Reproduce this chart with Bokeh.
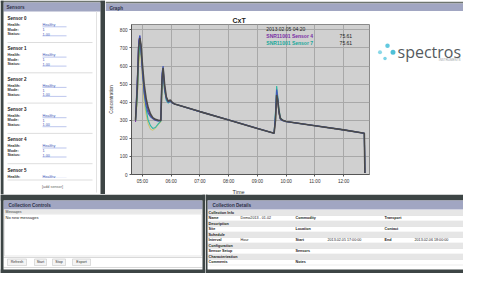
from bokeh.plotting import figure
from bokeh.layouts import row, column
from bokeh.models import Range1d, FixedTicker, Label, Title
from bokeh.core.properties import value
from bokeh.embed import file_html
from bokeh.resources import INLINE

# ---------------- data ----------------
hours = [4.76, 4.82, 4.87, 4.91, 4.95, 5.00, 5.06, 5.13, 5.20, 5.28, 5.36, 5.45, 5.55,
         5.64, 5.68, 5.72, 5.77, 5.83, 5.90, 5.97, 6.04, 6.12, 7.00, 8.00, 9.00, 9.58,
         9.63, 9.67, 9.71, 9.75, 9.80, 9.88, 10.00, 11.00, 12.00, 12.72, 12.74]
sensor_yellow = [300, 400, 600, 680, 650, 520, 400, 330, 280, 250, 245, 255, 275, 290, 450, 520, 460, 415, 398,
                 405, 398, 390, 348, 302, 255, 228, 290, 420, 390, 335, 305, 300, 293, 270, 247, 228, 8]
sensor_teal = [295, 430, 650, 720, 680, 590, 460, 360, 300, 270, 255, 260, 280, 295, 480, 560, 470, 410, 395,
               405, 398, 390, 348, 302, 255, 228, 350, 490, 430, 360, 315, 300, 293, 270, 247, 228, 8]
sensor_purple = [290, 500, 740, 765, 700, 580, 470, 400, 355, 325, 310, 300, 300, 300, 540, 580, 490, 425, 400,
                 410, 398, 390, 348, 302, 255, 228, 310, 455, 400, 345, 308, 300, 293, 270, 247, 228, 8]
sensor_blue = [310, 520, 730, 770, 690, 560, 450, 380, 340, 320, 310, 300, 295, 300, 560, 600, 470, 420, 400,
               405, 395, 390, 348, 302, 255, 228, 330, 470, 420, 340, 305, 298, 293, 270, 247, 228, 8]
sensor_main = [300, 470, 700, 755, 720, 610, 500, 420, 370, 335, 315, 305, 300, 298, 520, 590, 500, 430, 405,
               412, 398, 390, 348, 302, 255, 228, 300, 440, 410, 350, 310, 300, 293, 270, 247, 228, 8]

y_ticks = [0, 100, 200, 300, 400, 500, 600, 700, 800]
x_ticks = [5, 6, 7, 8, 9, 10, 11, 12]
x_tick_labels = ["05:00", "06:00", "07:00", "08:00", "09:00", "10:00", "11:00", "12:00"]

readout_time = "2013.02.05 04:20"
readout_names = ["SNR11001 Sensor 4", "SNR11001 Sensor 7"]
readout_values = ["75.61", "75.61"]

sensor_names = ["Sensor 0", "Sensor 1", "Sensor 2", "Sensor 3", "Sensor 4", "Sensor 5"]
field_labels = ["Health:", "Mode:", "Status:"]
field_values = ["Healthy", "1", "1.00"]

control_buttons = ["Refresh", "Start", "Stop", "Export"]

detail_rows = [
    ["Collection Info"],
    ["Name", "Demo2013 - 01.02", "Commodity", "", "Transport", ""],
    ["Description"],
    ["Site", "", "Location", "", "Contact", ""],
    ["Schedule"],
    ["Interval", "Hour", "Start", "2013.02.05 17:00:00", "End", "2013.02.06 18:00:00"],
    ["Configuration"],
    ["Sensor Setup", "", "Sensors", "", "", ""],
    ["Characterization"],
    ["Comments", "", "Notes", "", "", ""],
]

# ---------------- styles ----------------
FONT = value("Liberation Sans")
DARK = "#3d4545"
TOPLINE = "#6e756f"
HEADER = "#a1a6c2"
HEADER_TXT = "#2d3048"


def chrome(w, h):
    p = figure(width=w, height=h, x_range=Range1d(0, w), y_range=Range1d(h, 0),
               x_axis_type=None, y_axis_type=None, toolbar_location=None,
               output_backend="svg", min_border=0, outline_line_color=None)
    p.background_fill_color = "white"
    p.border_fill_color = "white"
    return p


def box(p, l, r, t, b, color, line=None):
    p.quad(left=[l], right=[r], top=[t], bottom=[b], fill_color=color,
           line_color=line, line_width=0.6)


def txt(p, x, y, s, size, color="#222222", bold=False, align="left", font=FONT):
    p.text(x=[x], y=[y], text=[s], text_font=font, text_font_size=f"{size}px",
           text_color=color, text_font_style="bold" if bold else "normal",
           text_align=align, text_baseline="middle")


def hline(p, x0, x1, y, color, width=0.7):
    p.segment(x0=[x0], x1=[x1], y0=[y], y1=[y], line_color=color, line_width=width)


# ---------------- left sensors panel ----------------
left = chrome(105, 194)
box(left, 0, 105, 0, 2, TOPLINE)
box(left, 3, 100, 2, 11, HEADER)
txt(left, 6, 6.7, "Sensors", 4.6, HEADER_TXT, bold=True)
for i, name in enumerate(sensor_names):
    y0 = 18 + 30.3 * i
    txt(left, 7, y0, name, 4.5, "#222222", bold=True)
    for j, (lab, val) in enumerate(zip(field_labels, field_values)):
        yy = y0 + 6.5 + 4.5 * j
        txt(left, 7, yy, lab, 3.8, "#333333", bold=True)
        txt(left, 42, yy, val, 3.8, "#4058b8")
        if j != 1:
            hline(left, 42, 66, yy + 1.8, "#8fa0e0", 0.6)
    hline(left, 7, 92, y0 + 24, "#d4d4d4", 0.8)
box(left, 3, 100, 177.5, 194, "white")
hline(left, 7, 92, 179.5, "#d4d4d4", 0.8)
txt(left, 52, 186, "[add sensor]", 3.8, "#666666", align="center")
left.segment(x0=[96], x1=[96], y0=[11], y1=[192], line_color="#e2e2e2", line_width=1)
box(left, 0, 3, 0, 194, DARK)
box(left, 100, 105, 0, 194, DARK)

# ---------------- graph header ----------------
ghead = chrome(358, 11)
box(ghead, 0, 358, 0, 2, TOPLINE)
box(ghead, 0, 358, 2, 11, HEADER)
txt(ghead, 4, 6.7, "Graph", 4.6, HEADER_TXT, bold=True)

# ---------------- chart ----------------
chart = figure(width=267, height=183, x_range=Range1d(4.62, 12.9), y_range=Range1d(0, 830),
               toolbar_location=None, output_backend="svg",
               min_border_left=24, min_border_right=3, min_border_top=13, min_border_bottom=19)
chart.background_fill_color = "#d0d0d0"
chart.border_fill_color = "white"
chart.outline_line_color = "#8a8a8a"
chart.grid.grid_line_color = "#a8a8a8"
chart.grid.grid_line_width = 1

chart.yaxis.ticker = FixedTicker(ticks=y_ticks)
chart.xaxis.ticker = FixedTicker(ticks=x_ticks)
chart.xaxis.major_label_overrides = {t: lab for t, lab in zip(x_ticks, x_tick_labels)}
for ax in (chart.xaxis, chart.yaxis):
    ax.major_label_text_font = "Liberation Sans"
    ax.major_label_text_font_size = "4.6px"
    ax.major_label_text_color = "#333333"
    ax.axis_line_color = "#555555"
    ax.major_tick_line_color = "#555555"
    ax.major_tick_in = 0
    ax.major_tick_out = 2
    ax.minor_tick_line_color = None
    ax.major_label_standoff = 2
chart.yaxis.axis_label = "Concentration"
chart.yaxis.axis_label_text_font = "Liberation Sans"
chart.yaxis.axis_label_text_font_size = "4.6px"
chart.yaxis.axis_label_text_font_style = "normal"
chart.yaxis.axis_label_text_color = "#333333"
chart.yaxis.axis_label_standoff = 3

chart.title = Title(text="CxT", align="left", offset=101, text_font="Liberation Sans",
                    text_font_size="7px", text_font_style="bold", text_color="#222222", standoff=2)
chart.add_layout(Title(text="Time", align="left", offset=101, text_font="Liberation Sans",
                       text_font_size="5.5px", text_font_style="normal", text_color="#333333",
                       standoff=0), "below")

series = [(sensor_yellow, "#cfc46a", 1.0), (sensor_teal, "#2fb7a3", 1.1),
          (sensor_purple, "#7d3fa6", 1.1), (sensor_blue, "#4358b8", 1.2),
          (sensor_main, "#4a4a4a", 1.6)]
for vals, col, lw in series:
    chart.line(hours, vals, line_color=col, line_width=lw)

chart.add_layout(Label(x=9.31, y=805, text=readout_time, text_font="Liberation Sans",
                       text_font_size="5px", text_color="#222222", text_baseline="middle"))
readout_colors = ["#7a2fa5", "#1aa89a"]
for k, (nm, vv, cc) in enumerate(zip(readout_names, readout_values, readout_colors)):
    yy = 767 - 38 * k
    chart.add_layout(Label(x=9.31, y=yy, text=nm, text_font="Liberation Sans",
                           text_font_size="5px", text_font_style="bold", text_color=cc,
                           text_baseline="middle"))
    chart.add_layout(Label(x=11.86, y=yy, text=vv, text_font="Liberation Sans",
                           text_font_size="5px", text_color="#222222", text_baseline="middle"))

# ---------------- logo ----------------
logo = chrome(91, 183)
logo.scatter(x=[15, 7.5, 20.5, 12.5], y=[26, 34, 34, 41.5], size=[4.5, 4, 5, 3.5],
             fill_color=["#62c9df", "#8ad8e8", "#4fc0d8", "#7dd3e6"], line_color=None)
txt(logo, 25, 33, "spectros", 16, "#555a5e", font=value("Open Sans"))
txt(logo, 88, 43, "INSTRUMENTS", 3, "#9aa0a4", align="right")

# ---------------- bottom left: controls ----------------
bl = chrome(205, 79)
box(bl, 0, 205, 0, 6, DARK)
box(bl, 3, 202, 6, 15, HEADER)
txt(bl, 8, 10.7, "Collection Controls", 4.6, HEADER_TXT, bold=True)
box(bl, 3, 202, 15, 19, "#e8e8e8")
txt(bl, 5, 17, "Messages", 3.5, "#444444")
box(bl, 4, 201, 19.5, 61.5, "white", line="#d6d6d6")
txt(bl, 5, 23, "No new messages", 4, "#222222")
hline(bl, 3, 202, 63, "#cfcfcf", 0.8)
btn_x = [7, 34, 52, 72]
btn_w = [19, 12, 13, 18]
for bx, bw, lab in zip(btn_x, btn_w, control_buttons):
    box(bl, bx, bx + bw, 64.5, 71, "#f4f4f4", line="#c8c8c8")
    txt(bl, bx + bw / 2, 67.8, lab, 3.6, "#333333", align="center")
hline(bl, 3, 202, 73, "#cfcfcf", 0.8)
box(bl, 0, 3, 0, 79, DARK)
box(bl, 202, 205, 0, 79, DARK)
box(bl, 0, 205, 75, 79, DARK)

# ---------------- bottom right: details ----------------
br = chrome(258, 79)
box(br, 0, 258, 0, 6, DARK)
box(br, 2, 258, 6, 15, HEADER)
txt(br, 7, 10.7, "Collection Details", 4.6, HEADER_TXT, bold=True)
col_x = [3, 35, 90, 122, 179, 209]
for r, cells in enumerate(detail_rows):
    y0 = 15.5 + 5.5 * r
    yc = y0 + 2.75
    if len(cells) == 1:
        box(br, 2, 258, y0, y0 + 5.5, "#e6e6e6")
        txt(br, col_x[0], yc, cells[0], 3.7, "#222222", bold=True)
    else:
        for c, s in enumerate(cells):
            if s:
                txt(br, col_x[c], yc, s, 3.7, "#222222", bold=(c % 2 == 0))
    hline(br, 2, 258, y0 + 5.5, "#d8d8d8", 0.5)
box(br, 0, 2, 0, 79, DARK)
box(br, 0, 258, 75, 79, DARK)

layout = column(row(left, column(ghead, row(chart, logo))), row(bl, br))
open("out.html", "w").write(file_html(layout, INLINE))
